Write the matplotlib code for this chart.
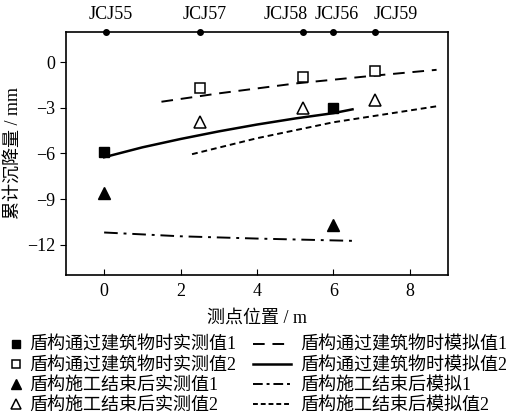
import matplotlib
matplotlib.use("Agg")
import matplotlib.pyplot as plt
from matplotlib.lines import Line2D

plt.rcParams['font.family'] = ['Liberation Serif', 'Noto Sans CJK SC']
plt.rcParams['axes.unicode_minus'] = True
FS = 13

# measuring points (top axis): dot position and label position
pt_names = ["JCJ55", "JCJ57", "JCJ58", "JCJ56", "JCJ59"]
pt_x = [0.05, 2.5, 5.2, 6.0, 7.1]
pt_label_x = [0.18, 2.62, 4.76, 6.1, 7.64]

# measured values
sq_fill_x = [0, 6]
sq_fill_y = [-5.9, -3.0]
sq_open_x = [2.5, 5.2, 7.1]
sq_open_y = [-1.7, -1.0, -0.6]
tri_fill_x = [0, 6]
tri_fill_y = [-8.6, -10.7]
tri_open_x = [2.5, 5.2, 7.1]
tri_open_y = [-3.9, -3.0, -2.5]

# simulated curves
sim1_x = [1.5, 3.0, 5.0, 7.0, 8.7]
sim1_y = [-2.6, -2.05, -1.4, -0.9, -0.5]
sim2_x = [0.0, 1.0, 2.0, 3.0, 4.0, 5.0, 6.0, 6.5]
sim2_y = [-6.25, -5.6, -5.05, -4.55, -4.1, -3.7, -3.35, -3.1]
end1_x = [0.0, 2.0, 4.0, 6.5]
end1_y = [-11.2, -11.45, -11.6, -11.75]
end2_x = [2.3, 4.0, 6.0, 8.7]
end2_y = [-6.05, -5.0, -3.95, -2.9]

fig = plt.figure(figsize=(5.15, 4.13), dpi=100)
ax = fig.add_axes([0.128, 0.334, 0.742, 0.589])

lw = 1.4
ax.plot(sim1_x, sim1_y, color="black", lw=lw, dashes=(6, 4))
ax.plot(sim2_x, sim2_y, color="black", lw=1.8)
ax.plot(end1_x, end1_y, color="black", lw=lw, dashes=(7, 3, 1.5, 3))
ax.plot(end2_x, end2_y, color="black", lw=lw, dashes=(3, 2))

ms = 7
ax.plot(sq_fill_x, sq_fill_y, "s", color="black", ms=ms, ls="none")
ax.plot(sq_open_x, sq_open_y, "s", mfc="white", mec="black", mew=1.1, ms=ms, ls="none")
ax.plot(tri_fill_x, tri_fill_y, "^", color="black", ms=ms + 2, ls="none")
ax.plot(tri_open_x, tri_open_y, "^", mfc="white", mec="black", mew=1.1, ms=ms + 2, ls="none")

ax.set_xlim(-1, 9)
ax.set_ylim(-14, 2)
ax.set_xticks([0, 2, 4, 6, 8])
ax.set_yticks([0, -3, -6, -9, -12])
ax.tick_params(axis="x", direction="in", labelsize=FS, length=4, pad=6)
ax.tick_params(axis="y", direction="out", labelsize=FS, length=4)
for s in ax.spines.values():
    s.set_linewidth(1.2)
ax.set_xlabel("测点位置 / m", fontsize=FS, labelpad=7)
ax.set_ylabel("累计沉降量 / mm", fontsize=FS, labelpad=4)

# top measuring-point markers
ax.plot(pt_x, [1.0] * len(pt_x), "o", color="black", ms=4,
        transform=ax.get_xaxis_transform(), clip_on=False)
for x, n in zip(pt_label_x, pt_names):
    ax.annotate(n, (x, 1.0), xycoords=("data", "axes fraction"),
                xytext=(0, 6), textcoords="offset points",
                ha="center", va="bottom", fontsize=FS)

mk_handles = [
    Line2D([], [], marker="s", color="black", ls="none", ms=6),
    Line2D([], [], marker="s", mfc="white", mec="black", mew=1.1, ls="none", ms=6),
    Line2D([], [], marker="^", color="black", ls="none", ms=7),
    Line2D([], [], marker="^", mfc="white", mec="black", mew=1.1, ls="none", ms=7),
]
mk_labels = ["盾构通过建筑物时实测值1", "盾构通过建筑物时实测值2",
             "盾构施工结束后实测值1", "盾构施工结束后实测值2"]
ln_handles = [
    Line2D([], [], color="black", lw=lw, dashes=(6, 4)),
    Line2D([], [], color="black", lw=1.8),
    Line2D([], [], color="black", lw=lw, dashes=(5, 2, 1.5, 2)),
    Line2D([], [], color="black", lw=lw, dashes=(2.5, 1.5)),
]
ln_labels = ["盾构通过建筑物时模拟值1", "盾构通过建筑物时模拟值2",
             "盾构施工结束后模拟1", "盾构施工结束后模拟值2"]

kw = dict(loc="upper left", frameon=False, fontsize=FS, borderpad=0,
          borderaxespad=0, labelspacing=0.17)
fig.legend(mk_handles, mk_labels, bbox_to_anchor=(8 / 515, 1 - 337 / 413),
           handlelength=0.9, handletextpad=0.3, **kw)
fig.legend(ln_handles, ln_labels, bbox_to_anchor=(253 / 515, 1 - 337 / 413),
           handlelength=2.1, handletextpad=0.5, **kw)

fig.savefig("out.png", dpi=100)
